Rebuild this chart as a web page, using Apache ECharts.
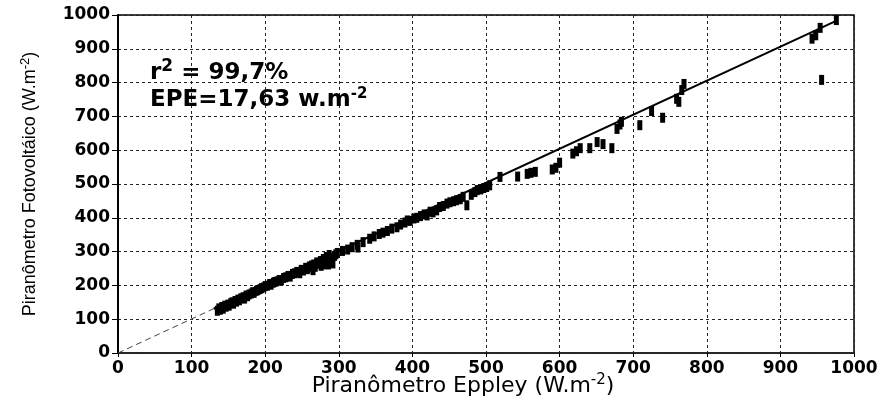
<!DOCTYPE html>
<html>
<head>
<meta charset="utf-8">
<script src="https://cdn.jsdelivr.net/npm/echarts@6/dist/echarts.min.js"></script>
<style>
  html, body { margin: 0; padding: 0; background: #fff; }
  #chart { width: 885px; height: 402px; }
</style>
</head>
<body>
<div id="chart"></div>
<script>
// Irradiance readings: Eppley pyranometer (x) vs photovoltaic pyranometer (y), W.m-2
const eppley = [
  135,137,139,141,143,145,147,149,151,153,155,157,159,161,163,165,167,170,172,174,
  176,178,181,183,185,188,190,193,195,198,200,203,206,208,211,213,216,219,222,225,
  228,231,234,237,240,243,246,249,252,255,258,260,263,266,268,270,272,275,277,279,
  281,283,285,287,289,290,292,286,280,276,294,296,298,247,257,265,
  305,312,318,325,326,333,342,348,355,360,366,372,379,384,390,393,397,402,406,411,
  416,420,424,428,433,437,442,447,451,456,460,465,469,474,480,485,488,493,497,501,505,
  519,543,556,561,567,590,595,600,618,623,628,641,651,659,671,678,682,684,
  709,725,740,759,762,766,769,956,943,948,954,976
];
const fotovoltaico = [
  125,132,128,136,131,140,137,143,140,147,150,146,154,152,158,156,162,165,161,170,
  168,173,176,180,178,184,186,189,192,194,198,199,204,202,208,210,212,216,215,222,
  224,228,226,234,236,240,238,246,244,252,250,256,259,262,255,268,264,272,268,278,
  274,284,280,290,276,268,265,262,262,258,287,292,296,236,248,245,
  302,306,313,320,312,328,338,345,352,356,361,368,372,380,386,392,391,398,400,405,
  410,407,418,416,422,432,435,442,446,449,452,455,462,437,468,476,482,484,488,491,496,
  521,522,530,533,536,543,548,563,590,597,606,606,624,618,606,663,676,684,
  674,716,696,752,743,778,796,808,930,940,962,985
];

// Regression line: dashed extrapolation to the origin, solid over the measured range
const fitDashedX = [0, 130];
const fitDashedY = [0, 131];
const fitSolidX = [130, 978];
const fitSolidY = [131, 985];

const axisTicks = [0, 100, 200, 300, 400, 500, 600, 700, 800, 900, 1000];

const r2Text = '99,7%';
const epeText = '17,63';

const pts = eppley.map((x, i) => [x, fotovoltaico[i]]);
const zip = (xs, ys) => xs.map((x, i) => [x, ys[i]]);

const FONT = '"DejaVu Sans", Verdana, sans-serif';
const NARROW = '"Liberation Sans", Arial, sans-serif';
const tickFont = {
  color: '#000', fontFamily: FONT, fontSize: 17, fontWeight: 'bold',
  formatter: v => String(v)
};

const chart = echarts.init(document.getElementById('chart'), null, { renderer: 'canvas' });
chart.setOption({
  animation: false,
  backgroundColor: '#fff',
  grid: {
    left: 118, right: 31, top: 15, bottom: 49,
    outerBoundsMode: 'none', containLabel: false,
    show: true, borderColor: '#000', borderWidth: 1.5
  },
  xAxis: {
    type: 'value', min: axisTicks[0], max: axisTicks[axisTicks.length - 1], interval: 100,
    name: 'Piranômetro Eppley (W.m{sup|-2})',
    nameLocation: 'middle', nameGap: 20, nameMoveOverlap: false,
    nameTextStyle: {
      color: '#000', fontSize: 22, fontFamily: FONT, padding: [0, 46, 0, 0],
      rich: { sup: { fontSize: 15, fontFamily: FONT, color: '#000', verticalAlign: 'top', padding: [0, 0, 12, 0] } }
    },
    axisLine: { show: true, lineStyle: { color: '#222', width: 1.5 } },
    axisTick: { show: true, length: 4, lineStyle: { color: '#000' } },
    axisLabel: Object.assign({ margin: 7 }, tickFont),
    splitLine: { show: true, lineStyle: { color: '#222', type: [3, 3], width: 1 } }
  },
  yAxis: {
    type: 'value', min: axisTicks[0], max: axisTicks[axisTicks.length - 1], interval: 100,
    name: 'Piranômetro Fotovoltáico (W.m{sup|-2})',
    nameLocation: 'middle', nameGap: 76, nameRotate: 90, nameMoveOverlap: false,
    nameTextStyle: {
      color: '#000', fontSize: 18, fontFamily: NARROW,
      rich: { sup: { fontSize: 13, fontFamily: NARROW, color: '#000', verticalAlign: 'top', padding: [0, 0, 10, 0] } }
    },
    axisLine: { show: true, lineStyle: { color: '#000', width: 2 } },
    axisTick: { show: true, length: 6, lineStyle: { color: '#000' } },
    axisLabel: Object.assign({ margin: 8 }, tickFont),
    splitLine: { show: true, lineStyle: { color: '#222', type: [3, 3], width: 1 } }
  },
  graphic: [
    {
      type: 'text', left: 150, top: 58, z: 100,
      style: {
        text: 'r{sup|2}{b| = ' + r2Text + '}',
        fill: '#000',
        font: 'bold 23px ' + FONT,
        rich: {
          sup: { fontSize: 17, fontWeight: 'bold', fontFamily: FONT, verticalAlign: 'top', padding: [0, 0, 14, 0] },
          b: { fontSize: 23, fontWeight: 'bold', fontFamily: FONT }
        }
      }
    },
    {
      type: 'text', left: 150, top: 87, z: 100,
      style: {
        text: 'EPE=' + epeText + ' w.m{sup|-2}',
        fill: '#000',
        font: 'bold 23px ' + FONT,
        rich: {
          sup: { fontSize: 15, fontWeight: 'bold', fontFamily: FONT, verticalAlign: 'top', padding: [0, 0, 12, 0] }
        }
      }
    }
  ],
  series: [
    {
      type: 'line', data: zip(fitDashedX, fitDashedY), symbol: 'none',
      lineStyle: { color: '#444', width: 1, type: [6, 4] }, z: 3
    },
    {
      type: 'line', data: zip(fitSolidX, fitSolidY), symbol: 'none',
      lineStyle: { color: '#000', width: 2 }, z: 3
    },
    {
      type: 'scatter', data: pts, symbol: 'rect', symbolSize: [5, 10],
      itemStyle: { color: '#000', opacity: 1 }, z: 4
    }
  ]
});
</script>
</body>
</html>
